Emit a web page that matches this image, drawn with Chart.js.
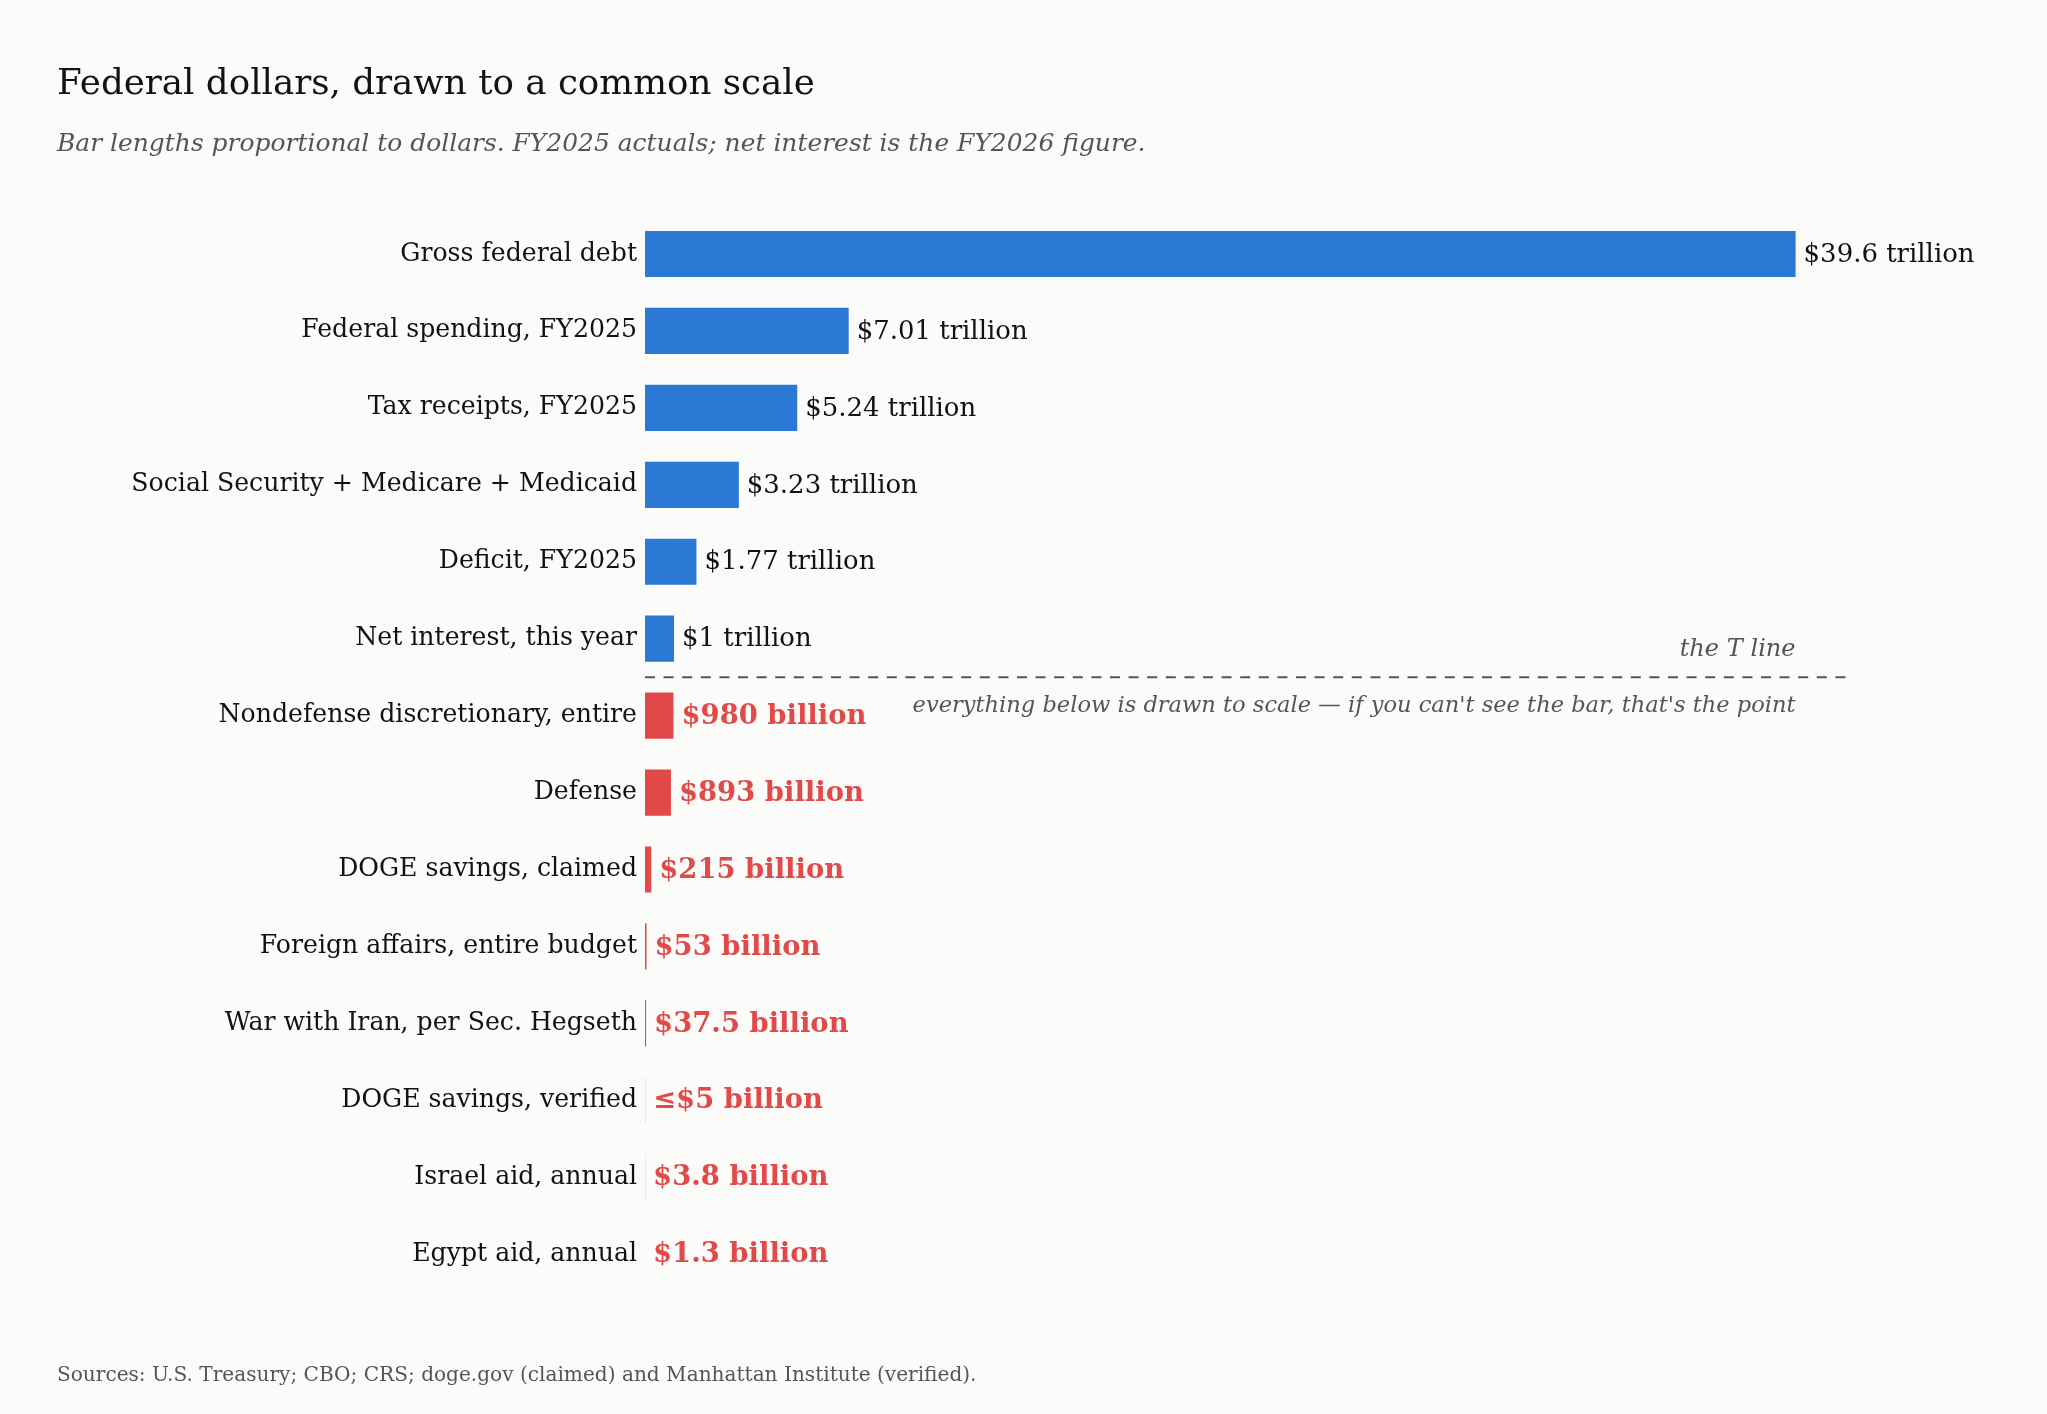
<!DOCTYPE html>
<html><head><meta charset="utf-8">
<script src="https://cdn.jsdelivr.net/npm/chart.js@4.4.1/dist/chart.umd.min.js"></script>
<style>
html,body{margin:0;padding:0;background:#fbfbf9;}
#wrap{position:relative;width:2047px;height:1414px;}
</style></head><body>
<div id="wrap"><canvas id="c" width="2047" height="1414"></canvas></div>
<script>
// ---------- data ----------
const categories = [
  "Gross federal debt",
  "Federal spending, FY2025",
  "Tax receipts, FY2025",
  "Social Security + Medicare + Medicaid",
  "Deficit, FY2025",
  "Net interest, this year",
  "Nondefense discretionary, entire",
  "Defense",
  "DOGE savings, claimed",
  "Foreign affairs, entire budget",
  "War with Iran, per Sec. Hegseth",
  "DOGE savings, verified",
  "Israel aid, annual",
  "Egypt aid, annual"
];
const valuesTrillions = [39.6, 7.01, 5.24, 3.23, 1.77, 1.0, 0.98, 0.893, 0.215, 0.053, 0.0375, 0.005, 0.0038, 0.0013];
const valueLabels = [
  "$39.6 trillion", "$7.01 trillion", "$5.24 trillion", "$3.23 trillion", "$1.77 trillion", "$1 trillion",
  "$980 billion", "$893 billion", "$215 billion", "$53 billion", "$37.5 billion", "\u2264$5 billion", "$3.8 billion", "$1.3 billion"
];
const tiers = ["T","T","T","T","T","T","B","B","B","B","B","B","B","B"];
const axisMax = 41.3;

const titleText = "Federal dollars, drawn to a common scale";
const subtitleText = "Bar lengths proportional to dollars. FY2025 actuals; net interest is the FY2026 figure.";
const sourceText = "Sources: U.S. Treasury; CBO; CRS; doge.gov (claimed) and Manhattan Institute (verified).";
const tLineLabel = "the T line";
const tLineNote = "everything below is drawn to scale \u2014 if you can't see the bar, that's the point";

// ---------- style ----------
const SERIF = '"DejaVu Serif", "Liberation Serif", serif';
const BLUE = '#2b79d5', RED = '#e24a4a', INK = '#121212', GREY = '#555555';
const mctx = document.createElement('canvas').getContext('2d');
function font(size, style, weight){ return (style||'normal') + ' ' + (weight||'normal') + ' ' + size.toFixed(2) + 'px ' + SERIF; }
function fitSize(text, target, style, weight){
  mctx.font = font(100, style, weight);
  return 100 * target / mctx.measureText(text).width;
}
const sz = {
  title: fitSize(titleText, 758),
  subtitle: fitSize(subtitleText, 1089, 'italic'),
  source: fitSize(sourceText, 920),
  label: fitSize("Social Security + Medicare + Medicaid", 506),
  value: fitSize("$39.6 trillion", 171),
  valueBold: fitSize("$980 billion", 185, 'normal', 'bold'),
  tline: fitSize(tLineLabel, 116, 'italic'),
  note: fitSize(tLineNote, 883, 'italic')
};

const decor = {
  id: 'decor',
  afterDatasetsDraw(chart){
    const {ctx, chartArea, scales:{x, y}} = chart;
    ctx.save();
    // value labels
    const meta = chart.getDatasetMeta(0);
    meta.data.forEach((bar, i) => {
      const top = tiers[i] === 'T';
      ctx.font = top ? font(sz.value) : font(sz.valueBold, 'normal', 'bold');
      ctx.fillStyle = top ? INK : RED;
      ctx.textAlign = 'left';
      ctx.textBaseline = 'middle';
      ctx.fillText(valueLabels[i], bar.x + 8, bar.y + 1);
    });
    // T line
    const split = tiers.indexOf('B');
    const yLine = (y.getPixelForValue(split - 1) + y.getPixelForValue(split)) / 2;
    ctx.strokeStyle = GREY;
    ctx.lineWidth = 2;
    ctx.setLineDash([10, 8.6]);
    ctx.beginPath();
    ctx.moveTo(chartArea.left, yLine);
    ctx.lineTo(chartArea.right + 1, yLine);
    ctx.stroke();
    ctx.setLineDash([]);
    const xr = x.getPixelForValue(valuesTrillions[0]);
    ctx.fillStyle = GREY;
    ctx.textAlign = 'right';
    ctx.textBaseline = 'alphabetic';
    ctx.font = font(sz.tline, 'italic');
    ctx.fillText(tLineLabel, xr, yLine - 21);
    ctx.font = font(sz.note, 'italic');
    ctx.fillText(tLineNote, xr, yLine + 35);
    // headings + source
    ctx.textAlign = 'left';
    ctx.fillStyle = INK;
    ctx.font = font(sz.title);
    ctx.fillText(titleText, 57, 94);
    ctx.fillStyle = GREY;
    ctx.font = font(sz.subtitle, 'italic');
    ctx.fillText(subtitleText, 57, 151);
    ctx.font = font(sz.source);
    ctx.fillText(sourceText, 57, 1381);
    ctx.restore();
  }
};

new Chart(document.getElementById('c'), {
  type: 'bar',
  data: {
    labels: categories,
    datasets: [{
      data: valuesTrillions,
      backgroundColor: tiers.map(t => t === 'T' ? BLUE : RED),
      borderWidth: 0,
      barPercentage: 0.6,
      categoryPercentage: 1.0
    }]
  },
  options: {
    indexAxis: 'y',
    responsive: false,
    animation: false,
    devicePixelRatio: 1,
    layout: { padding: { top: 215.5, bottom: 121.3, left: 0, right: 202 } },
    plugins: { legend: { display: false }, tooltip: { enabled: false }, title: { display: false } },
    scales: {
      x: { display: false, min: 0, max: axisMax },
      y: {
        grid: { display: false, drawTicks: false },
        border: { display: false },
        ticks: { color: INK, padding: 8, font: { family: SERIF, size: sz.label } },
        afterFit(scale){ scale.width = 645; }
      }
    }
  },
  plugins: [decor]
});
</script>
</body></html>
